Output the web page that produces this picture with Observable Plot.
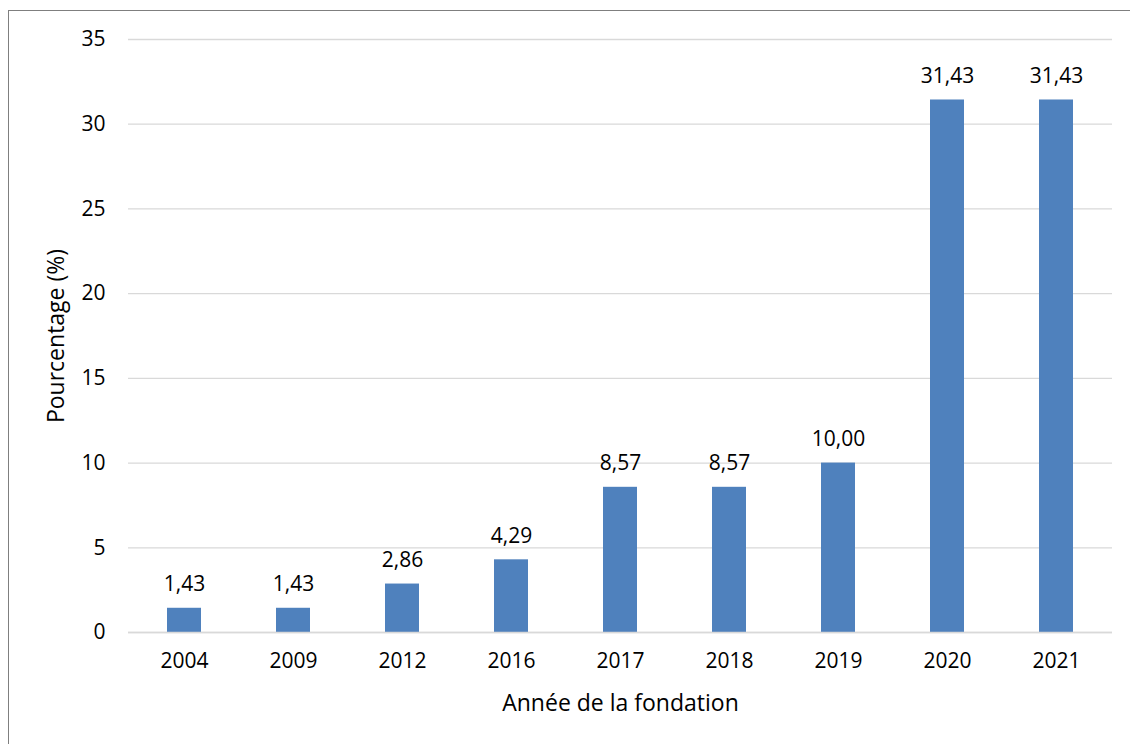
<!DOCTYPE html>
<html>
<head>
<meta charset="utf-8">
<script src="https://cdn.jsdelivr.net/npm/d3@7"></script>
<script src="https://cdn.jsdelivr.net/npm/@observablehq/plot@0.6"></script>
<style>
  html, body { margin: 0; padding: 0; background: #fff; overflow: hidden; }
  #wrap { position: relative; width: 1130px; height: 744px; }
  #frame { position: absolute; left: 8px; top: 10px; width: 1130px; height: 744px; border: 1.5px solid #7f7f7f; box-sizing: border-box; }
  #chart { position: absolute; left: 0; top: 0; }
</style>
</head>
<body>
<div id="wrap">
  <div id="frame"></div>
  <div id="chart"></div>
</div>
<script>
const years = ["2004", "2009", "2012", "2016", "2017", "2018", "2019", "2020", "2021"];
const values = [1.43, 1.43, 2.86, 4.29, 8.57, 8.57, 10.00, 31.43, 31.43];
const yTicks = [0, 5, 10, 15, 20, 25, 30, 35];
const xTitle = "Année de la fondation";
const yTitle = "Pourcentage (%)";

const data = years.map((y, i) => ({year: y, value: values[i]}));
const fmt = v => v.toFixed(2).replace(".", ",");
const font = "'Open Sans', sans-serif";

const chart = Plot.plot({
  width: 1130,
  height: 744,
  marginLeft: 128,
  marginRight: 18,
  marginTop: 39,
  marginBottom: 112,
  style: {fontFamily: font, fontSize: "21px", color: "#000", background: "transparent"},
  x: {domain: years, paddingInner: 0.69, paddingOuter: 0.345, label: null},
  y: {domain: [0, 35], label: null},
  marks: [
    Plot.gridY(yTicks, {stroke: "#d9d9d9", strokeOpacity: 1, strokeWidth: 1.3}),
    Plot.barY(data, {x: "year", y: "value", fill: "#4f81bd"}),
    Plot.ruleY([0], {stroke: "#d9d9d9", strokeWidth: 1.5}),
    Plot.text(data, {x: "year", y: "value", text: d => fmt(d.value), dy: -24, fill: "#000", fontSize: 21}),
    Plot.axisY({ticks: yTicks, tickSize: 0, tickPadding: 23, fontSize: 21, label: null, tickFormat: d => String(d)}),
    Plot.axisX({tickSize: 0, tickPadding: 21, fontSize: 21, label: null}),
    Plot.text([xTitle], {frameAnchor: "bottom", dy: 78, fontSize: 23, fill: "#000"}),
    Plot.text([yTitle], {frameAnchor: "left", textAnchor: "middle", dx: -72, rotate: -90, fontSize: 23, fill: "#000"})
  ]
});
document.getElementById("chart").appendChild(chart);
</script>
</body>
</html>
